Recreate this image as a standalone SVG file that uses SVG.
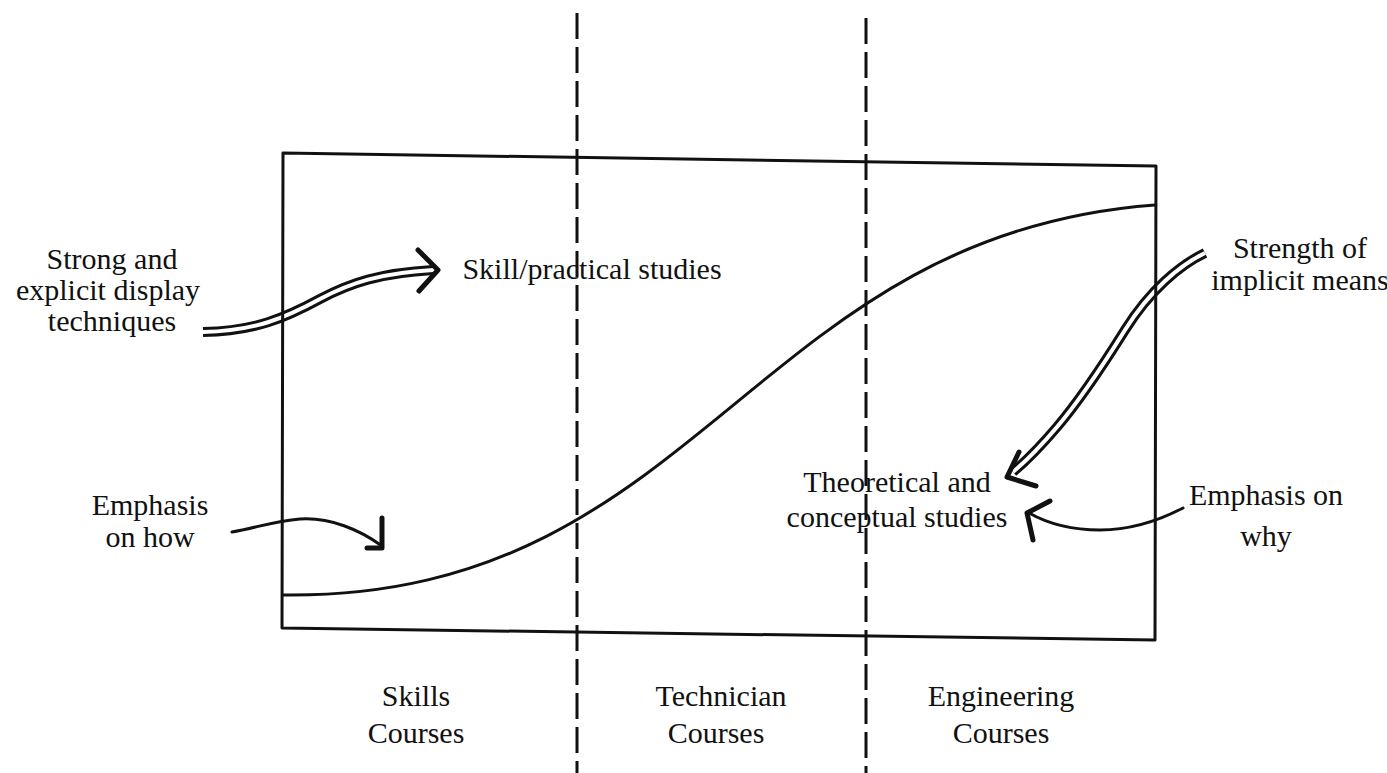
<svg xmlns="http://www.w3.org/2000/svg" width="1387" height="773" viewBox="0 0 1387 773">
<style>
text{font-family:"Liberation Serif","Times New Roman",serif;font-size:30px;fill:#111;text-anchor:middle}
.ln{fill:none;stroke:#111;stroke-width:3;stroke-linecap:round;stroke-linejoin:round}
.dash{fill:none;stroke:#111;stroke-width:3;stroke-dasharray:26 8}
.dblo{fill:none;stroke:#111;stroke-width:10;stroke-linecap:butt}
.dbli{fill:none;stroke:#fff;stroke-width:4;stroke-linecap:butt}
.head{fill:none;stroke:#111;stroke-width:5;stroke-linecap:round;stroke-linejoin:round}
</style>
<rect width="1387" height="773" fill="#fff"/>
<g id="connectors">
<path class="dblo" d="M203,332 C255,331 285,318 320,299 C350,283 380,273 433,270"/>
<path class="dbli" d="M203,332 C255,331 285,318 320,299 C350,283 380,273 433,270"/>
<path class="head" d="M418,250 L438,270 L419,291"/>
<path class="dblo" d="M1205,253 C1180,265 1150,290 1125,330 C1100,370 1080,400 1057,427 C1040,447 1025,462 1013,472"/>
<path class="dbli" d="M1205,253 C1180,265 1150,290 1125,330 C1100,370 1080,400 1057,427 C1040,447 1025,462 1013,472"/>
<path class="head" d="M1019,452 L1007,477 L1036,486"/>
<path class="ln" d="M232,532 C255,528 275,521 300,519 C330,517 360,530 382,546"/>
<path class="head" d="M382,518 L382,548 L367,548"/>
<path class="ln" d="M1183,508 C1160,520 1130,530 1100,530 C1070,530 1045,522 1029,513"/>
<path class="head" d="M1050,501 L1027,513 L1033,540"/>
</g>
<g id="frame">
<path class="ln" d="M283,153 L1156,166 L1155,640 L282,628 Z"/>
<path class="ln" d="M283,595 C700,600 750,235 1155,205"/>
<line class="dash" x1="577" y1="13" x2="577" y2="773"/>
<line class="dash" x1="866" y1="18" x2="866" y2="773"/>
</g>
<g id="n-strong"><text x="112" y="269">Strong and</text><text x="108" y="300">explicit display</text><text x="112" y="331">techniques</text></g>
<g id="n-skill"><text x="592" y="279">Skill/practical studies</text></g>
<g id="n-strength"><text x="1300" y="258">Strength of</text><text x="1300" y="290">implicit means</text></g>
<g id="n-howemph"><text x="150" y="515">Emphasis</text><text x="150" y="547">on how</text></g>
<g id="n-theory"><text x="897" y="492">Theoretical and</text><text x="897" y="527">conceptual studies</text></g>
<g id="n-whyemph"><text x="1266" y="505">Emphasis on</text><text x="1266" y="546">why</text></g>
<g id="n-skills"><text x="416" y="706">Skills</text><text x="416" y="743">Courses</text></g>
<g id="n-tech"><text x="721" y="706">Technician</text><text x="716" y="743">Courses</text></g>
<g id="n-eng"><text x="1001" y="706">Engineering</text><text x="1001" y="743">Courses</text></g>
</svg>
